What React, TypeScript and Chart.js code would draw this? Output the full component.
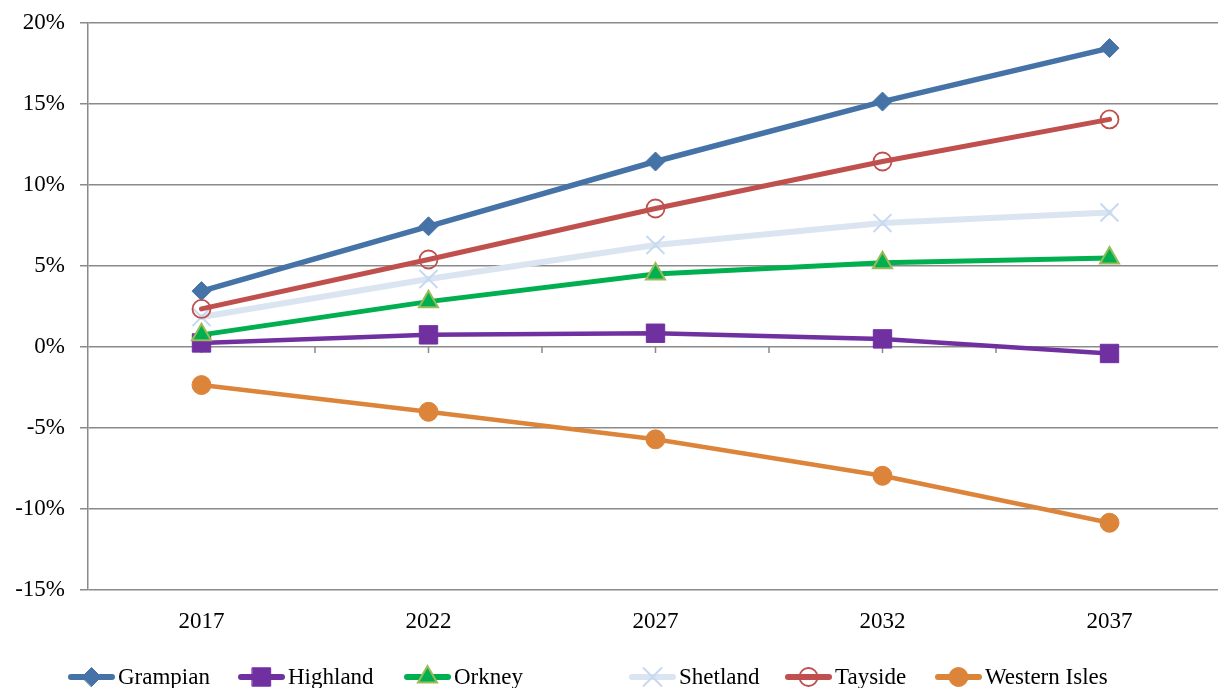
import React, { useEffect, useRef } from 'react';
import { Chart, registerables } from 'chart.js';
import { drawPoint } from 'chart.js/helpers';

Chart.register(...registerables);

// Projected population change by area, percent
const years = ['2017', '2022', '2027', '2032', '2037'];
const grampian = [3.45, 7.45, 11.45, 15.15, 18.45];
const highland = [0.25, 0.75, 0.85, 0.5, -0.4];
const orkney = [0.75, 2.8, 4.5, 5.2, 5.5];
const shetland = [1.85, 4.2, 6.3, 7.65, 8.3];
const tayside = [2.35, 5.4, 8.55, 11.45, 14.05];
const westernIsles = [-2.35, -4.0, -5.7, -7.95, -10.85];
const seriesNames = ['Grampian', 'Highland', 'Orkney', 'Shetland', 'Tayside', 'Western Isles'];

const FONT = '"Liberation Serif", "Times New Roman", serif';
const GRID = '#8a8a8a';
const LEGEND_X = [68, 238, 404, 629, 785, 935];

type Style = {
  line: string;
  fill: string;
  border: string;
  lineWidth: number;
  pointStyle: string;
  radius: number;
  pointBorder: number;
};

const styles: Style[] = [
  { line: '#4572a7', fill: '#4572a7', border: '#4572a7', lineWidth: 5.5, pointStyle: 'rectRot', radius: 9.5, pointBorder: 1 },
  { line: '#7030a0', fill: '#7030a0', border: '#7030a0', lineWidth: 4.5, pointStyle: 'rect', radius: 13, pointBorder: 1 },
  { line: '#00b050', fill: '#00b050', border: '#9bbb59', lineWidth: 5, pointStyle: 'triangle', radius: 11, pointBorder: 2 },
  { line: '#dbe5f1', fill: 'rgba(0,0,0,0)', border: '#c6d9f1', lineWidth: 6, pointStyle: 'crossRot', radius: 12.7, pointBorder: 2 },
  { line: '#c0504d', fill: 'rgba(0,0,0,0)', border: '#c0504d', lineWidth: 5, pointStyle: 'circle', radius: 9, pointBorder: 1.8 },
  { line: '#dc853a', fill: '#dc853a', border: '#dc853a', lineWidth: 4.5, pointStyle: 'circle', radius: 9.5, pointBorder: 1 },
];

const values = [grampian, highland, orkney, shetland, tayside, westernIsles];

// Small tick marks hanging from the 0% line, at category centres and boundaries
const zeroTicks = {
  id: 'zeroTicks',
  beforeDatasetsDraw(chart: any) {
    const { ctx, scales } = chart;
    const x = scales.x;
    const y0 = scales.y.getPixelForValue(0);
    const step = x.getPixelForValue(1) - x.getPixelForValue(0);
    ctx.save();
    ctx.strokeStyle = GRID;
    ctx.lineWidth = 1.5;
    ctx.beginPath();
    for (let i = 0; i < years.length; i++) {
      const c = x.getPixelForValue(i);
      for (const px of [c, c + step / 2]) {
        ctx.moveTo(px, y0);
        ctx.lineTo(px, y0 + 6);
      }
    }
    ctx.stroke();
    ctx.restore();
  },
};

// Legend with a line segment and marker for every series
const seriesLegend = {
  id: 'seriesLegend',
  afterDraw(chart: any) {
    const { ctx } = chart;
    const y = 677;
    styles.forEach((s, i) => {
      const x0 = LEGEND_X[i];
      ctx.save();
      ctx.strokeStyle = s.line;
      ctx.lineWidth = 6;
      ctx.lineCap = 'round';
      ctx.beginPath();
      ctx.moveTo(x0 + 3, y);
      ctx.lineTo(x0 + 44, y);
      ctx.stroke();
      ctx.fillStyle = s.fill;
      ctx.strokeStyle = s.border;
      ctx.lineWidth = s.pointBorder;
      drawPoint(ctx, { pointStyle: s.pointStyle, rotation: 0, radius: s.radius, borderWidth: s.pointBorder } as any, x0 + 23.5, y);
      ctx.fillStyle = '#000';
      ctx.font = `23px ${FONT}`;
      ctx.textBaseline = 'alphabetic';
      ctx.textAlign = 'left';
      ctx.fillText(seriesNames[i], x0 + 50, y + 7);
      ctx.restore();
    });
  },
};

const noEdgePadding = (scale: any) => {
  scale.paddingTop = 0;
  scale.paddingBottom = 0;
  scale.paddingLeft = 0;
  scale.paddingRight = 0;
};

export default function App() {
  const ref = useRef<HTMLCanvasElement>(null);

  useEffect(() => {
    document.body.style.margin = '0';
    document.body.style.overflow = 'hidden';
    if (!ref.current) return;
    const chart = new Chart(ref.current, {
      type: 'line',
      data: {
        labels: years,
        datasets: values.map((v, i) => ({
          label: seriesNames[i],
          data: v,
          borderColor: styles[i].line,
          borderWidth: styles[i].lineWidth,
          borderCapStyle: 'round',
          borderJoinStyle: 'round',
          pointStyle: styles[i].pointStyle as any,
          pointRadius: styles[i].radius,
          pointHoverRadius: styles[i].radius,
          pointBackgroundColor: styles[i].fill,
          pointBorderColor: styles[i].border,
          pointBorderWidth: styles[i].pointBorder,
          tension: 0,
          fill: false,
          order: 10 - i,
        })),
      },
      options: {
        responsive: false,
        animation: false,
        layout: { autoPadding: false, padding: { left: 0, right: 0, top: 23, bottom: 43 } },
        plugins: {
          legend: { display: false },
          tooltip: { enabled: false },
        },
        scales: {
          x: {
            type: 'category',
            offset: true,
            grid: { display: false, drawTicks: false },
            border: { display: false },
            ticks: {
              color: '#000',
              font: { family: FONT, size: 23 },
              padding: 18,
              maxRotation: 0,
            },
            afterFit(scale: any) {
              scale.height = 55;
              noEdgePadding(scale);
            },
          },
          y: {
            min: -15,
            max: 20,
            grid: { color: GRID, lineWidth: 1.5, tickLength: 8 },
            border: { color: GRID, width: 1.5 },
            ticks: {
              stepSize: 5,
              color: '#000',
              font: { family: FONT, size: 23 },
              padding: 15,
              callback: (v: any) => `${v}%`,
            },
            afterFit(scale: any) {
              scale.width = 88;
              noEdgePadding(scale);
            },
          },
        },
      },
      plugins: [zeroTicks, seriesLegend],
    });
    return () => chart.destroy();
  }, []);

  return (
    <div style={{ width: 1218, height: 688, overflow: 'hidden' }}>
      <canvas ref={ref} width={1223} height={688} style={{ display: 'block' }} />
    </div>
  );
}
